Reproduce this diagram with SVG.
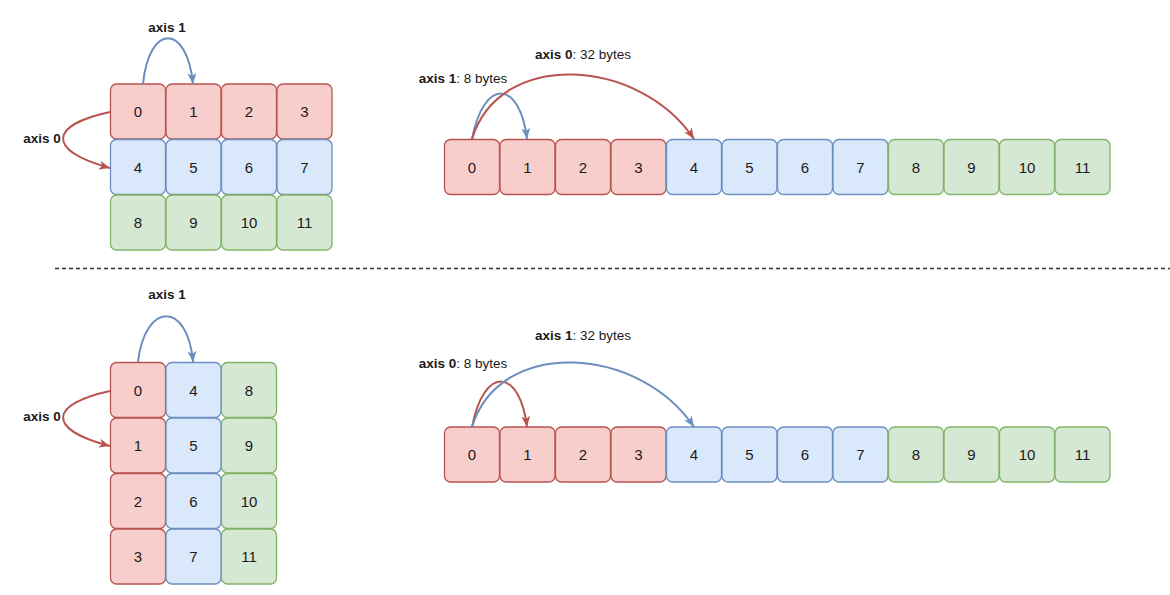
<svg xmlns="http://www.w3.org/2000/svg" width="1170" height="595" viewBox="0 0 1170 595">
<style>
.r{fill:#f8cecc;stroke:#b85450;stroke-width:1.3}
.b{fill:#dae8fc;stroke:#6c8ebf;stroke-width:1.3}
.g{fill:#d5e8d4;stroke:#82b366;stroke-width:1.3}
.t{font-family:"Liberation Sans",Arial,sans-serif;font-size:15px;fill:#1a1a1a;text-anchor:middle;dominant-baseline:central}
.l{font-family:"Liberation Sans",Arial,sans-serif;font-size:13.5px;fill:#1a1a1a;text-anchor:middle;dominant-baseline:central}
.lb{font-weight:bold}
.ar{fill:none;stroke-width:2}
.red{stroke:#b85450}
.blue{stroke:#6c8ebf}
</style>
<defs>
<marker id="mr" markerUnits="userSpaceOnUse" markerWidth="12" markerHeight="10" refX="11" refY="4.5" orient="auto"><path d="M0,0 L11,4.5 L0,9 L3,4.5 Z" fill="#b85450"/></marker>
<marker id="mb" markerUnits="userSpaceOnUse" markerWidth="12" markerHeight="10" refX="11" refY="4.5" orient="auto"><path d="M0,0 L11,4.5 L0,9 L3,4.5 Z" fill="#6c8ebf"/></marker>
</defs>

<!-- top-left grid -->
<g id="tl0"><rect class="r" x="110.5" y="84" width="55" height="55" rx="6"/><text class="t" x="138" y="111.5">0</text></g>
<g id="tl1"><rect class="r" x="166" y="84" width="55" height="55" rx="6"/><text class="t" x="193.5" y="111.5">1</text></g>
<g id="tl2"><rect class="r" x="221.5" y="84" width="55" height="55" rx="6"/><text class="t" x="249" y="111.5">2</text></g>
<g id="tl3"><rect class="r" x="277" y="84" width="55" height="55" rx="6"/><text class="t" x="304.5" y="111.5">3</text></g>
<g id="tl4"><rect class="b" x="110.5" y="139.5" width="55" height="55" rx="6"/><text class="t" x="138" y="167">4</text></g>
<g id="tl5"><rect class="b" x="166" y="139.5" width="55" height="55" rx="6"/><text class="t" x="193.5" y="167">5</text></g>
<g id="tl6"><rect class="b" x="221.5" y="139.5" width="55" height="55" rx="6"/><text class="t" x="249" y="167">6</text></g>
<g id="tl7"><rect class="b" x="277" y="139.5" width="55" height="55" rx="6"/><text class="t" x="304.5" y="167">7</text></g>
<g id="tl8"><rect class="g" x="110.5" y="195" width="55" height="55" rx="6"/><text class="t" x="138" y="222.5">8</text></g>
<g id="tl9"><rect class="g" x="166" y="195" width="55" height="55" rx="6"/><text class="t" x="193.5" y="222.5">9</text></g>
<g id="tl10"><rect class="g" x="221.5" y="195" width="55" height="55" rx="6"/><text class="t" x="249" y="222.5">10</text></g>
<g id="tl11"><rect class="g" x="277" y="195" width="55" height="55" rx="6"/><text class="t" x="304.5" y="222.5">11</text></g>

<!-- top-right strip -->
<g id="tr0"><rect class="r" x="444.5" y="139.5" width="55" height="55" rx="6"/><text class="t" x="472" y="167">0</text></g>
<g id="tr1"><rect class="r" x="500" y="139.5" width="55" height="55" rx="6"/><text class="t" x="527.5" y="167">1</text></g>
<g id="tr2"><rect class="r" x="555.5" y="139.5" width="55" height="55" rx="6"/><text class="t" x="583" y="167">2</text></g>
<g id="tr3"><rect class="r" x="611" y="139.5" width="55" height="55" rx="6"/><text class="t" x="638.5" y="167">3</text></g>
<g id="tr4"><rect class="b" x="666.5" y="139.5" width="55" height="55" rx="6"/><text class="t" x="694" y="167">4</text></g>
<g id="tr5"><rect class="b" x="722" y="139.5" width="55" height="55" rx="6"/><text class="t" x="749.5" y="167">5</text></g>
<g id="tr6"><rect class="b" x="777.5" y="139.5" width="55" height="55" rx="6"/><text class="t" x="805" y="167">6</text></g>
<g id="tr7"><rect class="b" x="833" y="139.5" width="55" height="55" rx="6"/><text class="t" x="860.5" y="167">7</text></g>
<g id="tr8"><rect class="g" x="888.5" y="139.5" width="55" height="55" rx="6"/><text class="t" x="916" y="167">8</text></g>
<g id="tr9"><rect class="g" x="944" y="139.5" width="55" height="55" rx="6"/><text class="t" x="971.5" y="167">9</text></g>
<g id="tr10"><rect class="g" x="999.5" y="139.5" width="55" height="55" rx="6"/><text class="t" x="1027" y="167">10</text></g>
<g id="tr11"><rect class="g" x="1055" y="139.5" width="55" height="55" rx="6"/><text class="t" x="1082.5" y="167">11</text></g>

<!-- bottom-left grid -->
<g id="bl0"><rect class="r" x="110.5" y="362.5" width="55" height="55" rx="6"/><text class="t" x="138" y="390">0</text></g>
<g id="bl1"><rect class="r" x="110.5" y="418" width="55" height="55" rx="6"/><text class="t" x="138" y="445.5">1</text></g>
<g id="bl2"><rect class="r" x="110.5" y="473.5" width="55" height="55" rx="6"/><text class="t" x="138" y="501">2</text></g>
<g id="bl3"><rect class="r" x="110.5" y="529" width="55" height="55" rx="6"/><text class="t" x="138" y="556.5">3</text></g>
<g id="bl4"><rect class="b" x="166" y="362.5" width="55" height="55" rx="6"/><text class="t" x="193.5" y="390">4</text></g>
<g id="bl5"><rect class="b" x="166" y="418" width="55" height="55" rx="6"/><text class="t" x="193.5" y="445.5">5</text></g>
<g id="bl6"><rect class="b" x="166" y="473.5" width="55" height="55" rx="6"/><text class="t" x="193.5" y="501">6</text></g>
<g id="bl7"><rect class="b" x="166" y="529" width="55" height="55" rx="6"/><text class="t" x="193.5" y="556.5">7</text></g>
<g id="bl8"><rect class="g" x="221.5" y="362.5" width="55" height="55" rx="6"/><text class="t" x="249" y="390">8</text></g>
<g id="bl9"><rect class="g" x="221.5" y="418" width="55" height="55" rx="6"/><text class="t" x="249" y="445.5">9</text></g>
<g id="bl10"><rect class="g" x="221.5" y="473.5" width="55" height="55" rx="6"/><text class="t" x="249" y="501">10</text></g>
<g id="bl11"><rect class="g" x="221.5" y="529" width="55" height="55" rx="6"/><text class="t" x="249" y="556.5">11</text></g>

<!-- bottom-right strip -->
<g id="br0"><rect class="r" x="444.5" y="427" width="55" height="55" rx="6"/><text class="t" x="472" y="454.5">0</text></g>
<g id="br1"><rect class="r" x="500" y="427" width="55" height="55" rx="6"/><text class="t" x="527.5" y="454.5">1</text></g>
<g id="br2"><rect class="r" x="555.5" y="427" width="55" height="55" rx="6"/><text class="t" x="583" y="454.5">2</text></g>
<g id="br3"><rect class="r" x="611" y="427" width="55" height="55" rx="6"/><text class="t" x="638.5" y="454.5">3</text></g>
<g id="br4"><rect class="b" x="666.5" y="427" width="55" height="55" rx="6"/><text class="t" x="694" y="454.5">4</text></g>
<g id="br5"><rect class="b" x="722" y="427" width="55" height="55" rx="6"/><text class="t" x="749.5" y="454.5">5</text></g>
<g id="br6"><rect class="b" x="777.5" y="427" width="55" height="55" rx="6"/><text class="t" x="805" y="454.5">6</text></g>
<g id="br7"><rect class="b" x="833" y="427" width="55" height="55" rx="6"/><text class="t" x="860.5" y="454.5">7</text></g>
<g id="br8"><rect class="g" x="888.5" y="427" width="55" height="55" rx="6"/><text class="t" x="916" y="454.5">8</text></g>
<g id="br9"><rect class="g" x="944" y="427" width="55" height="55" rx="6"/><text class="t" x="971.5" y="454.5">9</text></g>
<g id="br10"><rect class="g" x="999.5" y="427" width="55" height="55" rx="6"/><text class="t" x="1027" y="454.5">10</text></g>
<g id="br11"><rect class="g" x="1055" y="427" width="55" height="55" rx="6"/><text class="t" x="1082.5" y="454.5">11</text></g>

<!-- separator -->
<line x1="55" y1="268.5" x2="1170" y2="268.5" stroke="#333" stroke-width="1.3" stroke-dasharray="4 3"/>

<!-- connectors -->
<g id="connectors">
<path class="ar blue" d="M143,84 C149,23 187,23 193,84" marker-end="url(#mb)"/>
<path class="ar red" d="M110,112 C50,125 45,150 110,168" marker-end="url(#mr)"/>
<path class="ar blue" d="M472,139 C484,77 520,80 527,139" marker-end="url(#mb)"/>
<path class="ar red" d="M472,139 C500,48 640,58 694,139" marker-end="url(#mr)"/>
<path class="ar blue" d="M138,362 C145,301 188,301 193,362" marker-end="url(#mb)"/>
<path class="ar red" d="M110,391 C50,404 45,429 110,446" marker-end="url(#mr)"/>
<path class="ar red" d="M472,427 C484,365 520,368 527,427" marker-end="url(#mr)"/>
<path class="ar blue" d="M472,427 C500,336 640,346 694,427" marker-end="url(#mb)"/>
</g>

<!-- labels -->
<text class="l lb" x="167" y="27">axis 1</text>
<text class="l lb" x="42" y="138">axis 0</text>
<text class="l" x="583" y="54"><tspan class="lb">axis 0</tspan>: 32 bytes</text>
<text class="l" x="463" y="78"><tspan class="lb">axis 1</tspan>: 8 bytes</text>
<text class="l lb" x="167" y="294">axis 1</text>
<text class="l lb" x="42" y="416">axis 0</text>
<text class="l" x="583" y="335"><tspan class="lb">axis 1</tspan>: 32 bytes</text>
<text class="l" x="463" y="363"><tspan class="lb">axis 0</tspan>: 8 bytes</text>
</svg>
